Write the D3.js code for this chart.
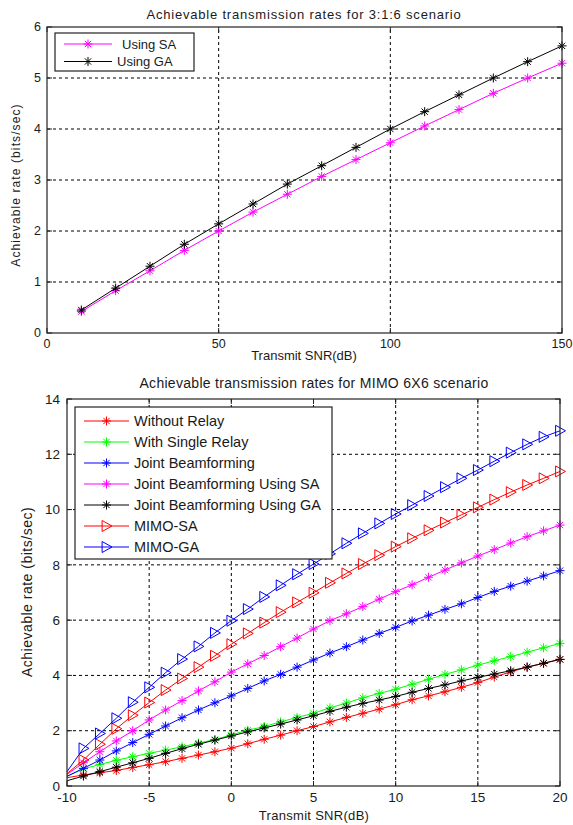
<!DOCTYPE html>
<html>
<head>
<meta charset="utf-8">
<script src="https://d3js.org/d3.v7.min.js"></script>
<style>
  body { margin: 0; background: #fff; }
  text { font-family: "Liberation Sans", Arial, sans-serif; fill: #1a1a1a; }
</style>
</head>
<body>
<div id="chart"></div>
<script>
// ---- data for the top chart (3:1:6 scenario) ----
const snrTop = [10, 20, 30, 40, 50, 60, 70, 80, 90, 100, 110, 120, 130, 140, 150];
const topSA = [0.42, 0.83, 1.22, 1.62, 2.00, 2.37, 2.72, 3.07, 3.40, 3.73, 4.06, 4.38, 4.70, 5.00, 5.29];
const topGA = [0.45, 0.88, 1.31, 1.74, 2.14, 2.53, 2.92, 3.28, 3.64, 4.00, 4.34, 4.67, 5.00, 5.32, 5.63];
const topLegend = ["Using SA", "Using GA"];
const topXTicks = [0, 50, 100, 150];
const topYTicks = [0, 1, 2, 3, 4, 5, 6];

// ---- data for the bottom chart (MIMO 6X6 scenario) ----
const snrBottom = [-10, -9, -8, -7, -6, -5, -4, -3, -2, -1, 0, 1, 2, 3, 4, 5, 6, 7, 8, 9, 10, 11, 12, 13, 14, 15, 16, 17, 18, 19, 20];
const withoutRelay = [0.30, 0.40, 0.48, 0.56, 0.67, 0.77, 0.88, 1.00, 1.12, 1.24, 1.37, 1.53, 1.69, 1.84, 2.00, 2.15, 2.32, 2.48, 2.63, 2.78, 2.94, 3.12, 3.26, 3.41, 3.57, 3.74, 3.94, 4.13, 4.30, 4.44, 4.58];
const singleRelay = [0.35, 0.62, 0.78, 0.93, 1.06, 1.18, 1.30, 1.42, 1.55, 1.68, 1.85, 2.02, 2.15, 2.32, 2.48, 2.63, 2.83, 3.00, 3.19, 3.35, 3.50, 3.68, 3.86, 4.04, 4.20, 4.37, 4.53, 4.68, 4.84, 5.00, 5.16];
const jointBF = [0.35, 0.64, 0.94, 1.27, 1.57, 1.87, 2.17, 2.47, 2.75, 3.01, 3.26, 3.53, 3.80, 4.04, 4.30, 4.56, 4.81, 5.04, 5.28, 5.52, 5.74, 5.97, 6.18, 6.39, 6.59, 6.82, 7.04, 7.23, 7.41, 7.60, 7.79];
const jointBFSA = [0.42, 0.84, 1.24, 1.63, 2.00, 2.39, 2.75, 3.09, 3.44, 3.77, 4.12, 4.42, 4.72, 5.04, 5.35, 5.68, 5.98, 6.23, 6.49, 6.76, 7.03, 7.28, 7.55, 7.81, 8.07, 8.32, 8.55, 8.79, 9.02, 9.23, 9.44];
const jointBFGA = [0.19, 0.36, 0.52, 0.68, 0.84, 1.00, 1.18, 1.35, 1.51, 1.66, 1.81, 1.96, 2.10, 2.24, 2.39, 2.54, 2.70, 2.85, 2.99, 3.11, 3.24, 3.39, 3.53, 3.66, 3.80, 3.93, 4.05, 4.17, 4.30, 4.44, 4.58];
const mimoSA = [0.45, 0.94, 1.51, 2.07, 2.56, 3.02, 3.47, 3.89, 4.30, 4.71, 5.13, 5.52, 5.91, 6.29, 6.64, 6.99, 7.35, 7.69, 8.03, 8.35, 8.66, 8.96, 9.25, 9.53, 9.81, 10.08, 10.36, 10.63, 10.89, 11.13, 11.38];
const mimoGA = [0.52, 1.36, 1.90, 2.45, 3.03, 3.57, 4.10, 4.59, 5.05, 5.54, 5.98, 6.40, 6.84, 7.26, 7.66, 8.03, 8.40, 8.78, 9.14, 9.50, 9.84, 10.16, 10.49, 10.81, 11.13, 11.43, 11.75, 12.06, 12.36, 12.63, 12.85];
const bottomLegend = ["Without Relay", "With Single Relay", "Joint Beamforming", "Joint Beamforming Using SA", "Joint Beamforming Using GA", "MIMO-SA", "MIMO-GA"];
const bottomXTicks = [-10, -5, 0, 5, 10, 15, 20];
const bottomYTicks = [0, 2, 4, 6, 8, 10, 12, 14];

const svg = d3.select("#chart").append("svg")
  .attr("width", 573)
  .attr("height", 825);

// marker shapes, MATLAB style
function starPath(s) {
  const k = s * 0.7;
  return `M${-s},0L${s},0M0,${-s}L0,${s}M${-k},${-k}L${k},${k}M${-k},${k}L${k},${-k}`;
}
function trianglePath(s) {
  return `M${-s * 0.8},${-s}L${s},0L${-s * 0.8},${s}Z`;
}

// draws one MATLAB-like axes box with grid, ticks and labels
function drawAxes(g, x, y, xTicks, yTicks, opts) {
  const [x0, x1] = x.range();
  const [y0, y1] = y.range();
  const tick = opts.tickLen;

  // dotted grid on inner ticks
  g.append("g").selectAll("line")
    .data(xTicks.slice(1, -1))
    .join("line")
    .attr("x1", d => x(d)).attr("x2", d => x(d))
    .attr("y1", y0).attr("y2", y1)
    .attr("stroke", "#000").attr("stroke-dasharray", "3,3");
  g.append("g").selectAll("line")
    .data(yTicks.slice(1, -1))
    .join("line")
    .attr("x1", x0).attr("x2", x1)
    .attr("y1", d => y(d)).attr("y2", d => y(d))
    .attr("stroke", "#000").attr("stroke-dasharray", "3,3");

  // inward tick marks on all four sides
  const ticks = g.append("g").attr("stroke", "#222");
  xTicks.forEach(d => {
    ticks.append("line").attr("x1", x(d)).attr("x2", x(d)).attr("y1", y0).attr("y2", y0 - tick);
    ticks.append("line").attr("x1", x(d)).attr("x2", x(d)).attr("y1", y1).attr("y2", y1 + tick);
  });
  yTicks.forEach(d => {
    ticks.append("line").attr("x1", x0).attr("x2", x0 + tick).attr("y1", y(d)).attr("y2", y(d));
    ticks.append("line").attr("x1", x1).attr("x2", x1 - tick).attr("y1", y(d)).attr("y2", y(d));
  });

  // tick labels
  g.append("g").selectAll("text")
    .data(xTicks)
    .join("text")
    .attr("x", d => x(d))
    .attr("y", y0 + opts.xLabelOffset)
    .attr("text-anchor", "middle")
    .style("font-size", opts.fontSize + "px")
    .text(d => d);
  g.append("g").selectAll("text")
    .data(yTicks)
    .join("text")
    .attr("x", x0 - opts.yLabelOffset)
    .attr("y", d => y(d) + opts.fontSize * 0.35)
    .attr("text-anchor", "end")
    .style("font-size", opts.fontSize + "px")
    .text(d => d);
}

// draws the box border last so it sits on top of lines
function drawBox(g, x, y) {
  const [x0, x1] = x.range();
  const [y0, y1] = y.range();
  g.append("rect")
    .attr("x", x0).attr("y", y1)
    .attr("width", x1 - x0).attr("height", y0 - y1)
    .attr("fill", "none").attr("stroke", "#222").attr("stroke-width", 1.2);
}

function drawSeries(g, x, y, xs, ys, s, skipFirst) {
  const pts = xs.map((d, i) => [d, ys[i]]);
  g.append("path")
    .datum(pts)
    .attr("fill", "none")
    .attr("stroke", s.color)
    .attr("stroke-width", 1)
    .attr("d", d3.line().x(d => x(d[0])).y(d => y(d[1])));
  g.append("g").selectAll("path")
    .data(skipFirst ? pts.slice(1) : pts)
    .join("path")
    .attr("transform", d => `translate(${x(d[0])},${y(d[1])})`)
    .attr("d", s.marker === "star" ? starPath(s.size) : trianglePath(s.size))
    .attr("fill", "none")
    .attr("stroke", s.color)
    .attr("stroke-width", 1);
}

function drawLegend(g, series, names, box) {
  g.append("rect")
    .attr("x", box.x).attr("y", box.y)
    .attr("width", box.w).attr("height", box.h)
    .attr("fill", "#fff").attr("stroke", "#222").attr("stroke-width", 1.2);
  const row = g.append("g").selectAll("g")
    .data(series)
    .join("g")
    .attr("transform", (d, i) => `translate(0,${box.firstRow + i * box.rowGap})`);
  row.append("line")
    .attr("x1", box.lineX0).attr("x2", box.lineX1)
    .attr("stroke", d => d.color);
  row.append("path")
    .attr("transform", `translate(${(box.lineX0 + box.lineX1) / 2},0)`)
    .attr("d", d => d.marker === "star" ? starPath(d.size) : trianglePath(d.size))
    .attr("fill", "none")
    .attr("stroke", d => d.color);
  row.append("text")
    .attr("x", (d, i) => box.textX[i] !== undefined ? box.textX[i] : box.textX[0])
    .attr("y", box.fontSize * 0.36)
    .style("font-size", box.fontSize + "px")
    .text((d, i) => names[i]);
}

// ================= top chart =================
const xTop = d3.scaleLinear().domain([0, 150]).range([47, 562]);
const yTop = d3.scaleLinear().domain([0, 6]).range([333, 27]);
const gTop = svg.append("g");

drawAxes(gTop, xTop, yTop, topXTicks, topYTicks,
  {tickLen: 5, fontSize: 12.5, xLabelOffset: 15, yLabelOffset: 6});

const topSeries = [
  {ys: topSA, color: "#ff00ff", marker: "star", size: 4.5},
  {ys: topGA, color: "#000000", marker: "star", size: 4.5}
];
topSeries.forEach(s => drawSeries(gTop, xTop, yTop, snrTop, s.ys, s, false));
drawBox(gTop, xTop, yTop);

drawLegend(gTop, topSeries, topLegend,
  {x: 55, y: 33, w: 139, h: 38, firstRow: 44, rowGap: 17.5, lineX0: 64, lineX1: 112,
   textX: [122, 117], fontSize: 13});

gTop.append("text")
  .attr("x", 304).attr("y", 19)
  .attr("text-anchor", "middle")
  .style("font-size", "13px")
  .style("letter-spacing", "0.8px")
  .text("Achievable transmission rates for 3:1:6 scenario");

gTop.append("text")
  .attr("x", 304).attr("y", 360)
  .attr("text-anchor", "middle")
  .style("font-size", "13px")
  .text("Transmit SNR(dB)");

gTop.append("text")
  .attr("transform", "translate(20,185) rotate(-90)")
  .attr("text-anchor", "middle")
  .style("font-size", "12px")
  .style("letter-spacing", "1.1px")
  .text("Achievable rate (bits/sec)");

// ================= bottom chart =================
const xBot = d3.scaleLinear().domain([-10, 20]).range([67, 560]);
const yBot = d3.scaleLinear().domain([0, 14]).range([786, 399]);
const gBot = svg.append("g");

drawAxes(gBot, xBot, yBot, bottomXTicks, bottomYTicks,
  {tickLen: 5, fontSize: 13.5, xLabelOffset: 16, yLabelOffset: 7});

const bottomSeries = [
  {ys: withoutRelay, color: "#ff0000", marker: "star", size: 4.5},
  {ys: singleRelay, color: "#00ff00", marker: "star", size: 4.5},
  {ys: jointBF, color: "#0000ff", marker: "star", size: 4.5},
  {ys: jointBFSA, color: "#ff00ff", marker: "star", size: 4.5},
  {ys: jointBFGA, color: "#000000", marker: "star", size: 4.5},
  {ys: mimoSA, color: "#ff0000", marker: "tri", size: 5.5},
  {ys: mimoGA, color: "#0000ff", marker: "tri", size: 5.5}
];
bottomSeries.forEach(s => drawSeries(gBot, xBot, yBot, snrBottom, s.ys, s, true));
drawBox(gBot, xBot, yBot);

drawLegend(gBot, bottomSeries, bottomLegend,
  {x: 75, y: 407, w: 257, h: 152, firstRow: 421, rowGap: 21, lineX0: 84, lineX1: 129,
   textX: [134], fontSize: 14.5});

gBot.append("text")
  .attr("x", 314).attr("y", 388)
  .attr("text-anchor", "middle")
  .style("font-size", "14px")
  .style("letter-spacing", "0.3px")
  .text("Achievable transmission rates for MIMO 6X6 scenario");

gBot.append("text")
  .attr("x", 314).attr("y", 820)
  .attr("text-anchor", "middle")
  .style("font-size", "13px")
  .style("letter-spacing", "0.3px")
  .text("Transmit SNR(dB)");

gBot.append("text")
  .attr("transform", "translate(32,592) rotate(-90)")
  .attr("text-anchor", "middle")
  .style("font-size", "14px")
  .style("letter-spacing", "0.5px")
  .text("Achievable rate (bits/sec)");
</script>
</body>
</html>
